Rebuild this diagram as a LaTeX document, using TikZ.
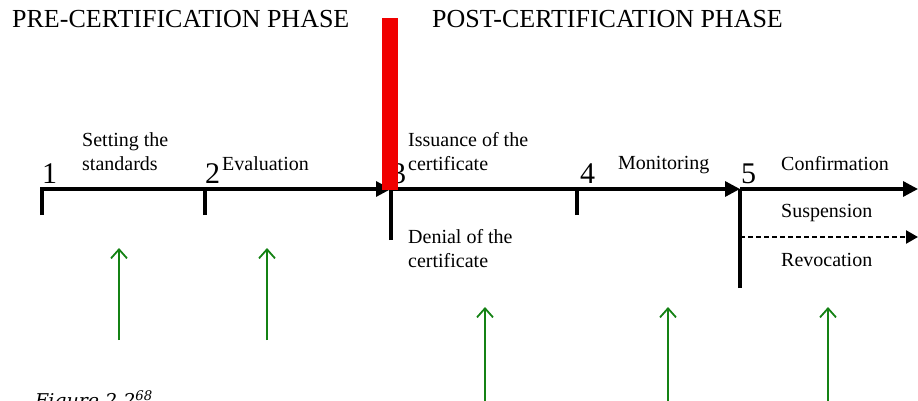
\documentclass[tikz,border=0pt]{standalone}
\usepackage{fontspec}
\setmainfont{Liberation Serif}
\newfontfamily\capfont{DejaVu Serif}
\usetikzlibrary{arrows.meta}
\definecolor{barred}{RGB}{240,0,0}
\definecolor{upgreen}{RGB}{20,130,20}
\begin{document}
\begin{tikzpicture}[x=1pt,y=-1pt,
  axis/.style={line width=3.2pt,line join=miter},
  tip/.style={-{Triangle[length=15pt,width=15pt]}},
  lbl/.style={font=\fontsize{20}{24}\selectfont,anchor=north west,inner sep=0pt,align=left},
  num/.style={font=\fontsize{30}{30}\selectfont,anchor=base west,inner sep=0pt},
  phase/.style={font=\fontsize{26}{26}\selectfont,anchor=base west,inner sep=0pt},
  up/.style={draw=upgreen,line width=1.8pt,-{Straight Barb[length=9pt,width=16pt,line width=1.8pt]}}]
\useasboundingbox (0,0) rectangle (918,401);
% points on the time line
\coordinate (p1) at (42,189);
\coordinate (p1b) at (42,215);
\coordinate (p2) at (205,189);
\coordinate (p2b) at (205,215);
\coordinate (p3) at (391,189);
\coordinate (p3b) at (391,240);
\coordinate (p4) at (577,189);
\coordinate (p4b) at (577,215);
\coordinate (p5) at (740,189);
\coordinate (p5b) at (740,288);
\coordinate (p5d) at (740,237);
\coordinate (e1) at (918,189);
\coordinate (e2) at (918,237);
% titles
\node[phase] (pre) at (12,28) {PRE-CERTIFICATION PHASE};
\node[phase] (post) at (432,28) {POST-CERTIFICATION PHASE};
% numbers
\node[num] (n1) at (42,183) {1};
\node[num] (n2) at (205,183) {2};
\node[num] (n3) at (391,183) {3};
\node[num] (n4) at (580,183) {4};
\node[num] (n5) at (741,183) {5};
% labels
\node[lbl] (l1) at (82,132) {Setting the\\standards};
\node[lbl] (l2) at (222,156) {Evaluation};
\node[lbl] (l3) at (408,132) {Issuance of the\\certificate};
\node[lbl] (l3b) at (408,229) {Denial of the\\certificate};
\node[lbl] (l4) at (618,156) {Monitoring};
\node[lbl] (l5a) at (781,156) {Confirmation};
\node[lbl] (l5b) at (781,204) {Suspension};
\node[lbl] (l5c) at (781,253) {Revocation};
% time line
\draw[axis] (p1b) -- (p1) -- (p2);
\draw[axis] (p2b) -- (p2);
\draw[axis,tip] (p2) -- (p3);
\draw[axis] (p3b) -- (p3) -- (p4);
\draw[axis] (p4b) -- (p4);
\draw[axis,tip] (p4) -- (p5);
\draw[axis] (p5b) -- (p5);
\draw[axis,tip] (p5) -- (e1);
\draw[line width=2.4pt,dash pattern=on 5pt off 3pt,-{Triangle[length=12pt,width=13pt]}] (p5d) -- (e2);
% red divider
\fill[barred] (382,18) rectangle (398,190);
% green arrows
\coordinate (g1a) at (119,340); \coordinate (g1b) at (119,248);
\coordinate (g2a) at (267,340); \coordinate (g2b) at (267,248);
\coordinate (g3a) at (485,402); \coordinate (g3b) at (485,307);
\coordinate (g4a) at (668,402); \coordinate (g4b) at (668,307);
\coordinate (g5a) at (828,402); \coordinate (g5b) at (828,307);
\draw[up] (g1a) -- (g1b);
\draw[up] (g2a) -- (g2b);
\draw[up] (g3a) -- (g3b);
\draw[up] (g4a) -- (g4b);
\draw[up] (g5a) -- (g5b);
% caption (cut off at bottom, as in the reference)
\node[anchor=base west,inner sep=0pt,font=\capfont\itshape\fontsize{19}{19}\selectfont] (cap) at (35,407) {Figure 2.2\textsuperscript{68}};
\end{tikzpicture}
\end{document}
